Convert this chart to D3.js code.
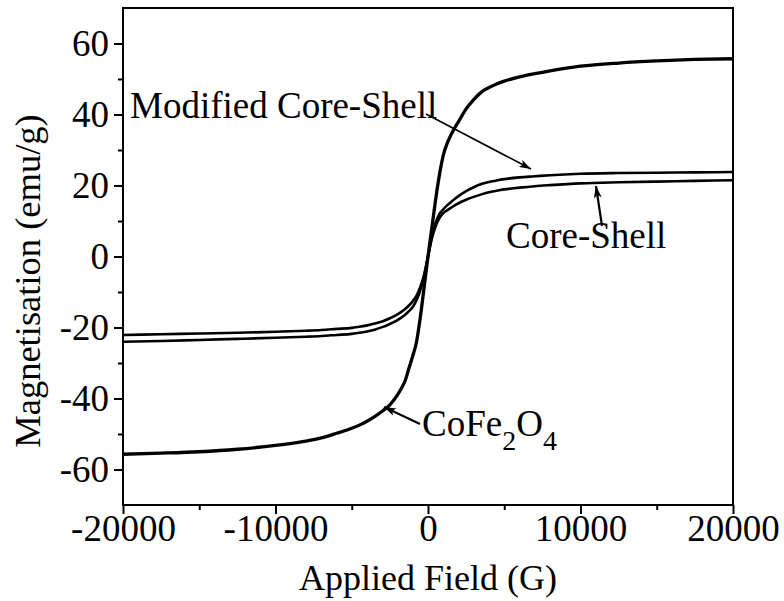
<!DOCTYPE html>
<html>
<head>
<meta charset="utf-8">
<script src="https://cdn.jsdelivr.net/npm/d3@7/dist/d3.min.js"></script>
<style>
  body { margin: 0; background: #fff; }
  text { font-family: "Liberation Serif", "Times New Roman", serif; fill: #000; }
</style>
</head>
<body>
<div id="chart"></div>
<script>
// Applied field (G) sample points
const fields = [-20000, -17500, -15000, -12500, -10000, -8000, -7000, -6000, -5000, -4500, -4000,
                -3500, -3000, -2500, -2000, -1750, -1500, -1250, -1000, -750, -500, -250, 0,
                250, 500, 750, 1000, 1250, 1500, 1750, 2000, 2500, 3000, 3500, 4000,
                4500, 5000, 6000, 7000, 8000, 10000, 12500, 15000, 17500, 20000];

// magnetisation (emu/g)
const cofe2o4 = [-55.7, -55.4, -55, -54.3, -53.2, -52, -51.1, -49.8, -48.4, -47.5, -46.4,
                 -45.1, -43.6, -41.8, -39, -37.2, -35, -31.5, -28, -24, -17, -8.5, 0,
                 8, 16, 23, 28.5, 31.8, 34.2, 36.2, 38, 41.6, 44.2, 46.3, 47.6,
                 48.6, 49.4, 50.6, 51.5, 52.3, 53.6, 54.5, 55.1, 55.5, 55.7];
const coreShell = [-22.1, -21.9, -21.7, -21.5, -21.2, -20.9, -20.7, -20.4, -20.1, -19.8, -19.4,
                   -18.9, -18.3, -17.4, -16.3, -15.6, -14.8, -13.8, -12.6, -11, -8.5, -5, 0,
                   5, 8.5, 10.8, 12.2, 13, 13.7, 14.4, 15, 16, 16.8, 17.5, 18.1,
                   18.5, 18.9, 19.4, 19.8, 20.1, 20.6, 20.9, 21.1, 21.3, 21.5];
const modifiedCoreShell = [-24, -23.8, -23.5, -23.2, -22.9, -22.6, -22.4, -22.1, -21.8, -21.5, -21.1,
                           -20.6, -19.9, -19, -17.9, -17.2, -16.4, -15.4, -14.2, -12.3, -9.5, -5.5, 0,
                           5.5, 9.5, 12, 13.3, 14.4, 15.3, 16.2, 17, 18.4, 19.5, 20.4, 21,
                           21.4, 21.8, 22.3, 22.6, 22.9, 23.3, 23.5, 23.6, 23.7, 23.8];

const xMajor = [-20000, -10000, 0, 10000, 20000];
const xMinor = [-15000, -5000, 5000, 15000];
const yMajor = [-60, -40, -20, 0, 20, 40, 60];
const yMinor = [-50, -30, -10, 10, 30, 50];

const W = 784, H = 601;
const margin = { top: 8, right: 51, bottom: 96, left: 123 };
const width = W - margin.left - margin.right;
const height = H - margin.top - margin.bottom;

const svg = d3.select("#chart").append("svg")
    .attr("width", W)
    .attr("height", H);

const defs = svg.append("defs");
defs.append("marker")
    .attr("id", "arrow")
    .attr("viewBox", "0 0 12 8")
    .attr("refX", 12)
    .attr("refY", 4)
    .attr("markerWidth", 12)
    .attr("markerHeight", 8)
    .attr("markerUnits", "userSpaceOnUse")
    .attr("orient", "auto")
    .append("path")
    .attr("d", "M0,0 L12,4 L0,8 L3,4 Z")
    .attr("fill", "#000");

const g = svg.append("g")
    .attr("transform", `translate(${margin.left},${margin.top})`);

const x = d3.scaleLinear().domain([-20000, 20000]).range([0, width]);
const y = d3.scaleLinear().domain([-70, 70]).range([height, 0]);

// frame (top and right without ticks)
g.append("rect")
    .attr("width", width)
    .attr("height", height)
    .attr("fill", "none")
    .attr("stroke", "#000")
    .attr("stroke-width", 2);

// minor ticks
g.append("g")
    .attr("transform", `translate(0,${height})`)
    .call(d3.axisBottom(x).tickValues(xMinor).tickSize(5).tickFormat(""))
    .call(a => a.select(".domain").remove())
    .selectAll("line").attr("stroke-width", 2);

g.append("g")
    .call(d3.axisLeft(y).tickValues(yMinor).tickSize(5).tickFormat(""))
    .call(a => a.select(".domain").remove())
    .selectAll("line").attr("stroke-width", 2);

// major ticks + labels
const xAxis = g.append("g")
    .attr("transform", `translate(0,${height})`)
    .call(d3.axisBottom(x).tickValues(xMajor).tickSize(9).tickPadding(1).tickFormat(d => String(d)))
    .call(a => a.select(".domain").remove());
xAxis.selectAll("line").attr("stroke-width", 2);
xAxis.selectAll("text").attr("font-size", 37).attr("font-family", "Liberation Serif");

const yAxis = g.append("g")
    .call(d3.axisLeft(y).tickValues(yMajor).tickSize(9).tickPadding(5).tickFormat(d => String(d)))
    .call(a => a.select(".domain").remove());
yAxis.selectAll("line").attr("stroke-width", 2);
yAxis.selectAll("text").attr("font-size", 37).attr("font-family", "Liberation Serif");

// axis titles
svg.append("text")
    .attr("x", margin.left + x(0))
    .attr("y", 590)
    .attr("text-anchor", "middle")
    .attr("font-size", 36)
    .text("Applied Field (G)");

svg.append("text")
    .attr("transform", "translate(40,281) rotate(-90)")
    .attr("text-anchor", "middle")
    .attr("font-size", 36.5)
    .text("Magnetisation (emu/g)");

// curves
const line = d3.line()
    .x(d => x(d[0]))
    .y(d => y(d[1]))
    .curve(d3.curveMonotoneX);

const series = [
    { values: coreShell, w: 2.6 },
    { values: modifiedCoreShell, w: 2.6 },
    { values: cofe2o4, w: 3.3 }
];

g.selectAll(".curve")
    .data(series)
    .join("path")
    .attr("class", "curve")
    .attr("fill", "none")
    .attr("stroke", "#000")
    .attr("stroke-width", d => d.w)
    .attr("stroke-linejoin", "round")
    .attr("d", d => line(fields.map((f, i) => [f, d.values[i]])));

// annotations
const ann = svg.append("g");

ann.append("text")
    .attr("x", 130)
    .attr("y", 118)
    .attr("font-size", 37)
    .text("Modified Core-Shell");

ann.append("line")
    .attr("x1", 426).attr("y1", 114)
    .attr("x2", 531).attr("y2", 169)
    .attr("stroke", "#000")
    .attr("stroke-width", 1.6)
    .attr("marker-end", "url(#arrow)");

ann.append("line")
    .attr("x1", 602).attr("y1", 226)
    .attr("x2", 596).attr("y2", 186)
    .attr("stroke", "#000")
    .attr("stroke-width", 2.2)
    .attr("marker-end", "url(#arrow)");

ann.append("text")
    .attr("x", 506)
    .attr("y", 248)
    .attr("font-size", 37)
    .text("Core-Shell");

ann.append("line")
    .attr("x1", 420).attr("y1", 424)
    .attr("x2", 384).attr("y2", 407)
    .attr("stroke", "#000")
    .attr("stroke-width", 2)
    .attr("marker-end", "url(#arrow)");

const chem = ann.append("text")
    .attr("x", 422)
    .attr("y", 436)
    .attr("font-size", 37);
chem.append("tspan").text("CoFe");
chem.append("tspan").attr("dy", 14).attr("font-size", 28).text("2");
chem.append("tspan").attr("dy", -14).text("O");
chem.append("tspan").attr("dy", 14).attr("font-size", 28).text("4");
</script>
</body>
</html>
